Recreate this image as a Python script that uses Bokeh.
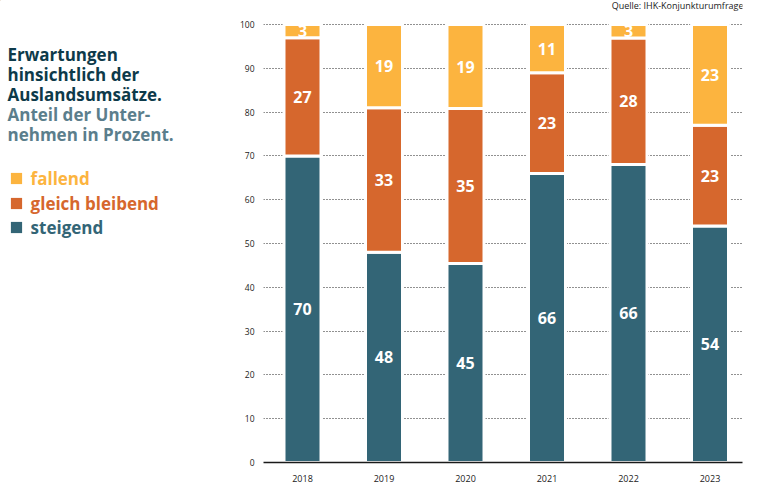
from bokeh.plotting import figure
from bokeh.layouts import row
from bokeh.models import (ColumnDataSource, Range1d, FixedTicker, Label, Legend,
                          LegendItem)
from bokeh.core.properties import value
from bokeh.embed import file_html
from bokeh.resources import INLINE

# ---- data ----
years = ["2018", "2019", "2020", "2021", "2022", "2023"]
steigend = [70, 48, 45, 66, 66, 54]
gleich = [27, 33, 35, 23, 28, 23]
fallend = [3, 19, 19, 11, 3, 23]
y_ticks = [0, 10, 20, 30, 40, 50, 60, 70, 80, 90, 100]
series_names = ["fallend", "gleich bleibend", "steigend"]
title_lines = ["Erwartungen", "hinsichtlich der", "Auslandsumsätze."]
subtitle_lines = ["Anteil der Unter-", "nehmen in Prozent."]
source_text = "Quelle: IHK-Konjunkturumfrage"

C_STEIG = "#336576"
C_GLEICH = "#d6672d"
C_FALL = "#fcb43f"
C_TITLE = "#0d3a4a"
C_SUB = "#5b7e8c"
FONT = "Open Sans"

# ---- geometry (page pixels) ----
TOTAL_W, H = 758, 487
LW = 230                      # width of the left text panel
MW = TOTAL_W - LW             # width of the chart figure
FL, FR, FB = 263, 742, 462    # frame left/right/bottom in page px
Y0_PX, Y100_PX = 462, 24      # page y of value 0 and value 100
PX_PER_CAT = 81.5
x0 = -39.0 / PX_PER_CAT
x1 = x0 + (FR - FL) / PX_PER_CAT
PX_PER_UNIT = (Y0_PX - Y100_PX) / 100.0
y_top = Y0_PX / PX_PER_UNIT    # frame reaches the page top

xs = list(range(len(years)))
tot = [a + b + c for a, b, c in zip(steigend, gleich, fallend)]
s_top = [100.0 * a / t for a, t in zip(steigend, tot)]
g_top = [100.0 * (a + b) / t for a, b, t in zip(steigend, gleich, tot)]
f_top = [100.0 for _ in tot]
zeros = [0.0 for _ in tot]

src = ColumnDataSource(dict(x=xs, s0=zeros, s1=s_top, g1=g_top, f1=f_top))

p = figure(width=MW, height=H, output_backend="svg", toolbar_location=None,
           x_range=Range1d(x0, x1), y_range=Range1d(0, y_top),
           min_border_left=FL - LW, min_border_right=TOTAL_W - FR,
           min_border_top=0, min_border_bottom=H - FB,
           background_fill_color=None, border_fill_color="white")
p.outline_line_color = None

BW = 37.0 / PX_PER_CAT
r_s = p.vbar(x="x", bottom="s0", top="s1", width=BW, source=src,
             fill_color=C_STEIG, line_color="white", line_width=3)
r_g = p.vbar(x="x", bottom="s1", top="g1", width=BW, source=src,
             fill_color=C_GLEICH, line_color="white", line_width=3)
r_f = p.vbar(x="x", bottom="g1", top="f1", width=BW, source=src,
             fill_color=C_FALL, line_color="white", line_width=3)

# value labels
lx, ly, lt = [], [], []
for i in xs:
    for lo, hi, v in ((0.0, s_top[i], steigend[i]), (s_top[i], g_top[i], gleich[i]),
                      (g_top[i], f_top[i], fallend[i])):
        lx.append(i)
        ly.append((lo + hi) / 2.0)
        lt.append(str(v))
p.text(x=lx, y=ly, text=lt, text_color="white", text_font=value(FONT),
       text_font_style="bold", text_font_size="16px", text_align="center",
       text_baseline="middle")

# axes
p.xaxis.ticker = FixedTicker(ticks=xs)
p.xaxis.major_label_overrides = {i: y for i, y in zip(xs, years)}
p.xaxis.major_tick_line_color = None
p.xaxis.major_tick_out = 0
p.xaxis.minor_tick_line_color = None
p.xaxis.axis_line_color = "#1a1a1a"
p.xaxis.axis_line_width = 1.3
p.xaxis.major_label_standoff = 12
p.xaxis.major_label_text_font = FONT
p.xaxis.major_label_text_font_size = "9px"
p.xaxis.major_label_text_color = "#1a1a1a"

p.yaxis.ticker = FixedTicker(ticks=y_ticks)
p.yaxis.axis_line_color = None
p.yaxis.major_tick_line_color = None
p.yaxis.major_tick_out = 0
p.yaxis.minor_tick_line_color = None
p.yaxis.major_label_standoff = 9
p.yaxis.major_label_text_font = FONT
p.yaxis.major_label_text_font_size = "8.5px"
p.yaxis.major_label_text_color = "#1a1a1a"

p.xgrid.grid_line_color = None
p.ygrid.grid_line_color = "#222222"
p.ygrid.grid_line_dash = "1 2"
p.ygrid.grid_line_width = 1

# source note (inside the tall frame, above the 100 line)
p.add_layout(Label(x=x1, y=(Y0_PX - 5.0) / PX_PER_UNIT, text=source_text,
                   x_offset=1, text_align="right", text_baseline="alphabetic",
                   text_font=FONT, text_font_size="9px", text_color="#1a1a1a"))

# ---- left panel: title, subtitle, legend (data units = page px) ----
q = figure(width=LW, height=H, output_backend="svg", toolbar_location=None,
           x_range=Range1d(0, LW), y_range=Range1d(FB, 0),
           min_border_left=0, min_border_right=0, min_border_top=0,
           min_border_bottom=H - FB, x_axis_type=None, y_axis_type=None,
           background_fill_color=None, border_fill_color="white")
q.outline_line_color = None
q.grid.visible = False

for t, b in zip(title_lines, [53.5, 73.5, 93.5]):
    q.add_layout(Label(x=7, y=b, text=t, text_baseline="alphabetic",
                       text_font=FONT, text_font_style="bold",
                       text_font_size="17px", text_color=C_TITLE))
for t, b in zip(subtitle_lines, [114.0, 134.0]):
    q.add_layout(Label(x=7, y=b, text=t, text_baseline="alphabetic",
                       text_font=FONT, text_font_style="bold",
                       text_font_size="17px", text_color=C_SUB))

leg_specs = [(series_names[0], C_FALL, 178.5),
             (series_names[1], C_GLEICH, 203.5),
             (series_names[2], C_STEIG, 227.5)]
for name, col, cy in leg_specs:
    # swatch source placed far outside the visible range
    dummy = q.vbar(x=[-1000], top=[-1000], bottom=[-1001], width=1,
                   fill_color=col, line_color=None)
    lg = Legend(items=[LegendItem(label=name, renderers=[dummy])],
                location=(8.6, FB - cy - 11),
                orientation="vertical", padding=0, margin=0, spacing=0,
                glyph_width=14, glyph_height=14, label_standoff=8,
                label_height=22,
                label_text_font=FONT, label_text_font_style="bold",
                label_text_font_size="17px", label_text_color=col,
                label_text_baseline="middle",
                border_line_color=None, background_fill_alpha=0)
    q.add_layout(lg, "center")

layout = row(q, p)
open("out.html", "w").write(file_html(layout, INLINE))
